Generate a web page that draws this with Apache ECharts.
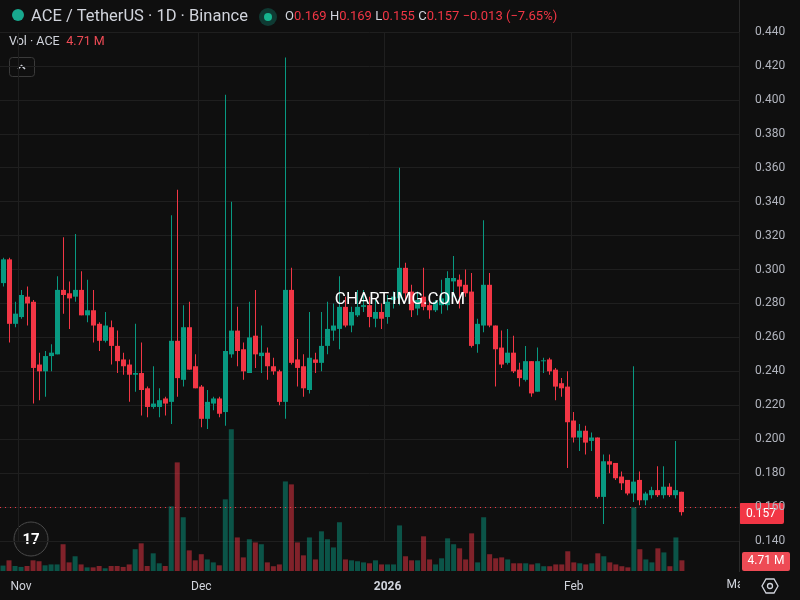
<!DOCTYPE html>
<html><head><meta charset="utf-8">
<script src="https://cdn.jsdelivr.net/npm/echarts@6/dist/echarts.min.js"></script>
<style>html,body{margin:0;padding:0;background:#0f0f0f}#c{width:800px;height:600px}</style>
</head><body><div id="c"></div>
<script>
const startDate = '2025-10-29';
const nCategories = 123;
const opens  = [.292,.306,.268,.272,.284,.281,.244,.240,.249,.250,.288,.286,.284,.288,.273,.276,.268,.258,.266,.255,.247,.244,.238,.239,.230,.219,.219,.224,.222,.258,.235,.266,.243,.231,.212,.221,.224,.216,.250,.264,.253,.239,.261,.249,.251,.243,.240,.222,.288,.247,.243,.229,.247,.245,.255,.264,.265,.278,.267,.273,.278,.279,.271,.275,.272,.282,.283,.301,.287,.277,.284,.279,.276,.279,.279,.293,.294,.291,.287,.256,.267,.291,.267,.254,.245,.251,.241,.235,.246,.228,.246,.247,.241,.233,.231,.211,.201,.205,.199,.201,.166,.187,.186,.178,.176,.168,.176,.164,.167,.170,.167,.172,.167,.169];
const highs  = [.307,.307,.281,.288,.290,.282,.251,.252,.256,.296,.319,.293,.321,.299,.294,.288,.269,.275,.270,.264,.251,.247,.268,.257,.231,.243,.230,.225,.332,.347,.279,.281,.250,.232,.229,.225,.225,.403,.340,.278,.257,.281,.288,.267,.254,.248,.241,.425,.301,.259,.250,.275,.251,.275,.281,.280,.296,.284,.278,.288,.288,.284,.282,.280,.285,.287,.360,.304,.291,.287,.301,.282,.282,.294,.299,.308,.297,.300,.298,.271,.329,.298,.267,.264,.265,.261,.245,.255,.246,.254,.248,.248,.242,.236,.240,.216,.209,.208,.204,.201,.191,.191,.186,.181,.176,.243,.181,.169,.172,.184,.184,.174,.199,.169];
const lows   = [.290,.257,.266,.271,.267,.221,.223,.225,.240,.250,.274,.265,.281,.273,.269,.257,.252,.257,.244,.239,.238,.222,.228,.214,.213,.218,.213,.214,.209,.225,.231,.241,.230,.207,.206,.217,.213,.208,.248,.243,.235,.239,.242,.239,.235,.238,.220,.212,.244,.231,.225,.227,.239,.240,.250,.258,.253,.266,.263,.272,.275,.266,.266,.265,.268,.277,.279,.282,.272,.273,.276,.271,.275,.274,.276,.284,.277,.284,.254,.251,.263,.266,.231,.242,.244,.239,.231,.234,.225,.228,.239,.238,.223,.225,.183,.198,.193,.191,.193,.165,.150,.180,.176,.170,.167,.163,.161,.161,.165,.166,.165,.166,.165,.155];
const closes = [.306,.268,.274,.285,.280,.242,.240,.249,.251,.288,.285,.283,.288,.273,.276,.267,.258,.267,.255,.246,.243,.238,.239,.229,.219,.221,.223,.221,.258,.236,.266,.241,.230,.212,.222,.224,.215,.252,.264,.252,.240,.260,.250,.251,.243,.240,.222,.288,.245,.242,.230,.248,.245,.255,.265,.267,.278,.267,.275,.278,.279,.272,.275,.271,.281,.284,.301,.286,.276,.282,.278,.276,.281,.283,.295,.295,.290,.286,.255,.268,.291,.267,.253,.244,.251,.240,.236,.246,.227,.246,.2465,.240,.231,.230,.210,.201,.205,.198,.201,.166,.187,.185,.177,.174,.168,.175,.164,.168,.170,.167,.172,.167,.170,.157];
const volumesM = [2.4,4.7,2.2,1.8,2.2,4.7,4.3,2.5,2.9,2.9,11.8,3.8,6.5,2.9,1.6,1.6,2.2,1.2,2.2,2.2,1.8,2.9,9.6,12.2,2.2,7.8,3.4,2.2,28.5,47.9,23.7,9.1,4.7,7.4,5.1,3.8,2.5,31.6,62.5,14.8,6.0,14.0,12.6,11.8,3.8,2.1,2.9,39.5,38.2,12.6,6.9,14.8,5.1,17.5,14.0,10.4,21.5,5.1,4.7,4.3,3.8,3.4,4.7,2.9,2.9,2.9,20.1,6.5,4.7,4.7,15.3,5.1,2.9,5.6,14.4,11.8,10.0,5.1,16.6,3.8,23.7,7.4,5.6,6.0,5.1,3.4,3.4,3.4,2.9,3.4,2.1,2.1,2.9,2.9,8.7,3.8,3.4,2.9,3.4,7.8,6.5,3.8,2.9,2.1,1.6,28.1,9.6,5.1,3.8,10.0,8.2,2.1,14.8,4.71];
const priceTicks = [0.14,0.44,0.02];
const monthNames = {'11':'Nov','12':'Dec','1':'2026','2':'Feb','3':'Mar'};

const UP='#089981', DN='#f23645';
const dates=[];
{const d=new Date(startDate+'T00:00:00Z');for(let i=0;i<nCategories;i++){dates.push(d.toISOString().slice(0,10));d.setUTCDate(d.getUTCDate()+1);}}
const isFirst=(i)=>dates[i].slice(8)==='01';
const ohlc=opens.map((o,i)=>[i,o,closes[i],lows[i],highs[i]]);
const vol=volumesM.map((v,i)=>({value:v,itemStyle:{color:closes[i]>=opens[i]?'rgba(8,153,129,0.5)':'rgba(242,54,69,0.5)'}}));
const txt='#d1d4dc';
const chart=echarts.init(document.getElementById('c'),null,{devicePixelRatio:1});
chart.setOption({
  backgroundColor:'#0f0f0f', animation:false,
  grid:[{left:0,right:61,top:32,height:509},{left:0,right:61,bottom:29,height:200}],
  xAxis:[
    {type:'category',data:dates,gridIndex:0,boundaryGap:true,axisLine:{show:false},axisTick:{show:false},axisLabel:{show:false},
     splitLine:{show:true,interval:(i)=>isFirst(i),lineStyle:{color:'#1f1f1f'}}},
    {type:'category',data:dates,gridIndex:1,boundaryGap:true,axisLine:{show:false},axisTick:{show:false},
     axisLabel:{interval:(i)=>isFirst(i),color:txt,fontSize:12,fontFamily:'Roboto',margin:10,
       formatter:(v)=>{const m=String(+v.slice(5,7));return m==='1'?'{b|2026}':monthNames[m];},rich:{b:{fontWeight:'bold',color:txt,fontSize:12,fontFamily:'Roboto'}}},
     splitLine:{show:false}}
  ],
  yAxis:[
    {type:'value',gridIndex:0,position:'right',min:priceTicks[0],max:priceTicks[1],interval:priceTicks[2],
     axisLine:{show:false},axisTick:{show:false},splitLine:{lineStyle:{color:'#1f1f1f'}},
     axisLabel:{color:'#b2b5be',fontSize:12,fontFamily:'Roboto',margin:16,formatter:(v)=>v.toFixed(3)}},
    {type:'value',gridIndex:1,min:0,max:88.2,show:false,splitLine:{show:false}}
  ],
  series:[
    {type:'bar',xAxisIndex:1,yAxisIndex:1,data:vol,barWidth:5,z:1},
    {type:'custom',xAxisIndex:0,yAxisIndex:0,data:ohlc,z:4,silent:true,encode:{x:0,y:[1,2,3,4]},
     renderItem:(params,api)=>{
       const i=api.value(0),o=api.value(1),c=api.value(2);
       const lo=api.coord([i,api.value(3)]), hi=api.coord([i,api.value(4)]);
       const po=api.coord([i,o]), pc=api.coord([i,c]);
       const col=c>=o?UP:DN;
       const xi=Math.floor(lo[0]);
       const top=Math.min(po[1],pc[1]), h=Math.max(1,Math.abs(po[1]-pc[1]));
       return {type:'group',children:[
         {type:'rect',shape:{x:xi,y:hi[1],width:1,height:lo[1]-hi[1]},style:{fill:col}},
         {type:'rect',shape:{x:xi-2,y:top,width:5,height:h},style:{fill:col}}
       ]};
     },
     markLine:{silent:true,symbol:'none',label:{show:false},lineStyle:{color:DN,type:[1,4],width:1},data:[{yAxis:closes[closes.length-1]}]}}
  ],
  graphic:[
    {type:'line',shape:{x1:739.5,y1:0,x2:739.5,y2:572},style:{stroke:'#2a2a2a',lineWidth:1}},
    {type:'rect',shape:{x:739,y:503,width:45,height:21,r:2},style:{fill:DN}},
    {type:'text',x:761,y:514,style:{text:'0.157',fill:'#fff',font:'12px Roboto',align:'center',verticalAlign:'middle'}},
    {type:'rect',shape:{x:742,y:552,width:48,height:19,r:2},style:{fill:'#ee4b55'}},
    {type:'text',x:766,y:561,style:{text:'4.71 M',fill:'#fff',font:'12px Roboto',align:'center',verticalAlign:'middle'}},
    {type:'text',x:735,y:585,style:{text:'Ma',fill:txt,font:'12px Roboto',align:'center',verticalAlign:'middle'}},
    {type:'rect',shape:{x:740,y:575,width:60,height:25},style:{fill:'#0f0f0f'}},
    {type:'polygon',shape:{points:[[766,579],[774,579],[778,586],[774,593],[766,593],[762,586]]},style:{fill:'none',stroke:txt,lineWidth:1.3}},
    {type:'circle',shape:{cx:770,cy:586,r:2.5},style:{fill:'none',stroke:txt,lineWidth:1.3}},
    {type:'circle',shape:{cx:31,cy:539,r:17},style:{fill:'#131313',stroke:'#4a4a4a',lineWidth:1}},
    {type:'text',x:31,y:540,style:{text:'17',fill:'#fff',font:'bold 15px Roboto',align:'center',verticalAlign:'middle'}},
    {type:'circle',shape:{cx:18,cy:15,r:6},style:{fill:'#18a88e'}},
    {type:'text',x:31,y:17,style:{text:'ACE / TetherUS · 1D · Binance',fill:txt,font:'16.5px Roboto',verticalAlign:'middle'}},
    {type:'circle',shape:{cx:268,cy:17,r:9},style:{fill:'#0f3a33'}},
    {type:'circle',shape:{cx:268,cy:17,r:4},style:{fill:'#16b58f'}},
    {type:'text',x:285,y:17,style:{text:'{g|O}{r|0.169} {g|H}{r|0.169} {g|L}{r|0.155} {g|C}{r|0.157} {r|−0.013 (−7.65%)}',verticalAlign:'middle',
      rich:{g:{fill:txt,font:'13px Roboto'},r:{fill:DN,font:'13px Roboto'}}}},
    {type:'text',x:9,y:42,style:{text:'{g|Vol · ACE}  {r|4.71 M}',verticalAlign:'middle',rich:{g:{fill:txt,font:'12.5px Roboto'},r:{fill:'#ee4b55',font:'12.5px Roboto'}}}},
    {type:'rect',shape:{x:9.5,y:57.5,width:25,height:19,r:3},style:{fill:'none',stroke:'#3a3a3a',lineWidth:1}},
    {type:'polyline',shape:{points:[[18,69],[21.5,65.5],[25,69]]},style:{stroke:txt,lineWidth:1.5,fill:'none'}},
    {type:'text',x:400,y:300,style:{text:'CHART-IMG.COM',fill:'#ffffff',font:'17px Roboto',align:'center',verticalAlign:'middle'},z:100}
  ]
});
</script></body></html>
